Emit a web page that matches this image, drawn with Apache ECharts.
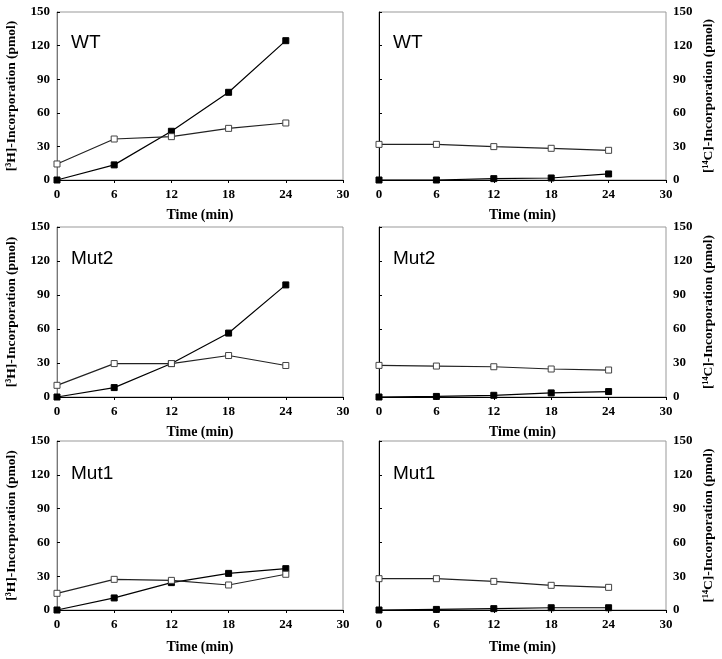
<!DOCTYPE html>
<html><head><meta charset="utf-8">
<script src="https://cdn.jsdelivr.net/npm/echarts@6/dist/echarts.min.js"></script>
<style>html,body{margin:0;padding:0;background:#fff}#c{width:722px;height:659px}</style>
</head><body><div id="c"></div>
<script>
const times = [0, 6, 12, 18, 24];
const xTicks = [0, 6, 12, 18, 24, 30];
const yTicks = [0, 30, 60, 90, 120, 150];
const panelLabels = ['WT', 'Mut2', 'Mut1'];
// [3H] incorporation (left column)
const wtH_filled = [0, 13.5, 43.5, 78.3, 124.4];
const wtH_open = [14.3, 36.6, 38.7, 46.1, 50.9];
const mut2H_filled = [0, 8.3, 29.5, 56.4, 98.9];
const mut2H_open = [10.3, 29.5, 29.5, 36.6, 27.8];
const mut1H_filled = [0, 10.7, 24.3, 32.5, 36.7];
const mut1H_open = [14.8, 27.2, 26.3, 22.2, 31.7];
// [14C] incorporation (right column)
const wtC_filled = [0, 0, 1.2, 1.8, 5.4];
const wtC_open = [31.8, 31.8, 29.8, 28.3, 26.5];
const mut2C_filled = [0, 0.5, 1.5, 3.6, 4.8];
const mut2C_open = [27.9, 27.3, 26.7, 24.7, 23.8];
const mut1C_filled = [0, 0.5, 1.2, 2.0, 2.0];
const mut1C_open = [27.8, 27.8, 25.4, 21.9, 20.1];

const leftData = [[wtH_filled, wtH_open], [mut2H_filled, mut2H_open], [mut1H_filled, mut1H_open]];
const rightData = [[wtC_filled, wtC_open], [mut2C_filled, mut2C_open], [mut1C_filled, mut1C_open]];

const rows = [{top: 12, h: 168}, {top: 227, h: 170}, {top: 441, h: 169}];
const cols = [{left: 57, w: 286}, {left: 379, w: 287}];
const labelTops = [33, 249, 464];

const tickFont = {fontFamily: 'Liberation Serif', fontWeight: 'bold', fontSize: 13, color: '#000'};
const grids = [], xAxes = [], yAxes = [], series = [], titles = [];
let gi = 0;
rows.forEach((r, ri) => {
  cols.forEach((c, ci) => {
    grids.push({left: c.left, top: r.top, width: c.w, height: r.h, show: true, borderColor: '#999', borderWidth: 1, containLabel: false});
    xAxes.push({
      gridIndex: gi, type: 'value', min: 0, max: 30, interval: 6,
      name: 'Time (min)', nameLocation: 'middle', nameGap: ri === 2 ? 30 : 28,
      nameTextStyle: {fontFamily: 'Liberation Serif', fontWeight: 'bold', fontSize: 14, color: '#000'},
      axisLine: {lineStyle: {color: '#000', width: 1}},
      axisTick: {show: true, length: 3, lineStyle: {color: '#000'}},
      axisLabel: Object.assign({margin: 8, formatter: v => xTicks.includes(v) ? String(v) : ''}, tickFont),
      splitLine: {show: false}
    });
    yAxes.push({
      gridIndex: gi, type: 'value', min: 0, max: 150, interval: 30,
      position: ci === 0 ? 'left' : 'right',
      name: ci === 0 ? '[³H]-Incorporation (pmol)' : '[¹⁴C]-Incorporation (pmol)',
      nameLocation: 'middle', nameRotate: 90, nameGap: ci === 0 ? 38 : 36,
      nameTextStyle: {fontFamily: 'Liberation Serif', fontWeight: 'bold', fontSize: 13.5, color: '#000'},
      axisLine: {show: true, lineStyle: {color: ci === 0 ? '#777' : '#000', width: 1}},
      axisTick: {show: true, length: 3, inside: ci === 0, lineStyle: {color: '#000'}},
      axisLabel: Object.assign({margin: 7, formatter: v => yTicks.includes(v) ? String(v) : ''}, tickFont),
      splitLine: {show: false}
    });
    const d = ci === 0 ? leftData[ri] : rightData[ri];
    series.push({
      type: 'line', xAxisIndex: gi, yAxisIndex: gi, data: times.map((t, k) => [t, d[0][k]]),
      symbol: 'rect', symbolSize: 6, showAllSymbol: true,
      lineStyle: {color: '#000', width: 1.2}, itemStyle: {color: '#000', borderColor: '#000', borderWidth: 1}, z: 3
    });
    series.push({
      type: 'line', xAxisIndex: gi, yAxisIndex: gi, data: times.map((t, k) => [t, d[1][k]]),
      symbol: 'rect', symbolSize: 6, showAllSymbol: true,
      lineStyle: {color: '#222', width: 1.2}, itemStyle: {color: '#fff', borderColor: '#444', borderWidth: 1}, z: 4
    });
    titles.push({
      text: panelLabels[ri], left: c.left + 14, top: labelTops[ri], padding: 0,
      textStyle: {fontFamily: 'Liberation Sans', fontWeight: 'normal', fontSize: 19, color: '#000'}
    });
    gi++;
  });
});

const chart = echarts.init(document.getElementById('c'), null, {renderer: 'canvas'});
chart.setOption({
  animation: false, backgroundColor: '#fff',
  title: titles, grid: grids, xAxis: xAxes, yAxis: yAxes, series: series
});
</script></body></html>
